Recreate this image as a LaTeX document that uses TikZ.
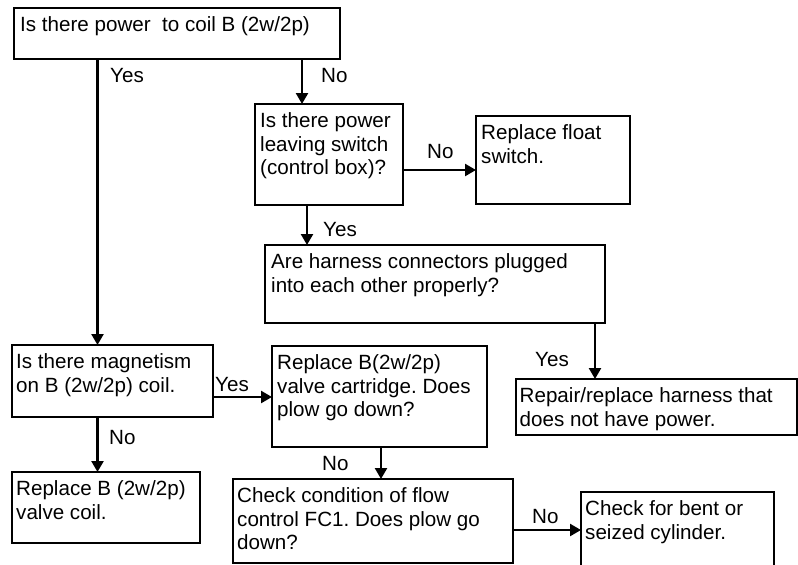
\documentclass[tikz,border=0pt]{standalone}
\usepackage{fontspec}
\setmainfont{Liberation Sans}
\usetikzlibrary{arrows.meta}
\frenchspacing

% strut that fixes the height of a first text line
\newcommand\tstrut{\rule{0pt}{16.5pt}}

\tikzset{
  box/.style={draw, line width=2.4pt, anchor=north west, outer sep=0pt, inner sep=0pt},
  txt/.style={anchor=north west, inner sep=0pt, align=left,
              font=\fontsize{20.6}{23.6}\selectfont},
  lbl/.style={anchor=west, inner sep=0pt, font=\fontsize{20.6}{23.6}\selectfont},
  arr/.style={line width=2.4pt, -{Triangle[length=11pt,width=12pt]}},
}

\begin{document}
\begin{tikzpicture}[x=1pt,y=-1pt]
\clip (0,0) rectangle (798,565);
\fill[white] (0,0) rectangle (798,565);

% ---- boxes ----
\node[box, minimum width=326pt, minimum height=51pt]  (a) at (14,8)    {};
\node[box, minimum width=148pt, minimum height=101pt] (b) at (255,104) {};
\node[box, minimum width=154pt, minimum height=88pt]  (c) at (476,116) {};
\node[box, minimum width=340pt, minimum height=78pt]  (d) at (265,245) {};
\node[box, minimum width=281pt, minimum height=56pt]  (e) at (516,379) {};
\node[box, minimum width=201pt, minimum height=72pt]  (f) at (12,345)  {};
\node[box, minimum width=215pt, minimum height=101pt] (g) at (272,346) {};
\node[box, minimum width=188pt, minimum height=71pt]  (h) at (12,472)  {};
\node[box, minimum width=280pt, minimum height=84pt]  (i) at (233,479) {};
\node[box, minimum width=193pt, minimum height=100pt] (j) at (581,492) {};

% ---- box texts ----
\node[txt] (at) at ([shift={(6,7)}]a.north west) {\tstrut Is there power~ to coil B (2w/2p)};
\node[txt] (bt) at ([shift={(5,7)}]b.north west) {\tstrut Is there power\\leaving switch\\(control box)?};
\node[txt] (ct) at ([shift={(5,7)}]c.north west) {\tstrut Replace float\\switch.};
\node[txt] (dt) at ([shift={(6,7)}]d.north west) {\tstrut Are harness connectors plugged\\into each other properly?};
\node[txt] (et) at ([shift={(3.5,7)}]e.north west) {\tstrut Repair/replace harness that\\does not have power.};
\node[txt] (ft) at ([shift={(4,7)}]f.north west) {\tstrut Is there magnetism\\on B (2w/2p) coil.};
\node[txt] (gt) at ([shift={(5,7)}]g.north west) {\tstrut Replace B(2w/2p)\\valve cartridge. Does\\plow go down?};
\node[txt] (ht) at ([shift={(4,7)}]h.north west) {\tstrut Replace B (2w/2p)\\valve coil.};
\node[txt] (it) at ([shift={(4,7)}]i.north west) {\tstrut Check condition of flow\\control FC1. Does plow go\\down?};
\node[txt] (jt) at ([shift={(4,7)}]j.north west) {\tstrut Check for bent or\\seized cylinder.};

% ---- connector columns and rows ----
\coordinate (c1) at (97.5,0);
\coordinate (c2) at (302,0);
\coordinate (c3) at (307,0);
\coordinate (c4) at (595,0);
\coordinate (c5) at (381,0);
\coordinate (r1) at (0,170);
\coordinate (r2) at (0,397);
\coordinate (r3) at (0,530);

% ---- connectors ----
\draw[arr] (a.south -| c1) -- (f.north -| c1);
\draw[arr] (a.south -| c2) -- (b.north -| c2);
\draw[arr] (b.east |- r1) -- (c.west |- r1);
\draw[arr] (b.south -| c3) -- (d.north -| c3);
\draw[arr] (d.south -| c4) -- (e.north -| c4);
\draw[arr] (f.east |- r2) -- (g.west |- r2);
\draw[arr] (f.south -| c1) -- (h.north -| c1);
\draw[arr] (g.south -| c5) -- (i.north -| c5);
\draw[arr] (i.east |- r3) -- (j.west |- r3);

% ---- connector labels ----
\node[lbl] (l1) at (110,76)  {Yes};
\node[lbl] (l2) at (321,76)  {No};
\node[lbl] (l3) at (427,152) {No};
\node[lbl] (l4) at (323,230) {Yes};
\node[lbl] (l5) at (535,360) {Yes};
\node[lbl] (l6) at (215,385) {Yes};
\node[lbl] (l7) at (109,438) {No};
\node[lbl] (l8) at (322,464) {No};
\node[lbl] (l9) at (532,517) {No};
\end{tikzpicture}
\end{document}
